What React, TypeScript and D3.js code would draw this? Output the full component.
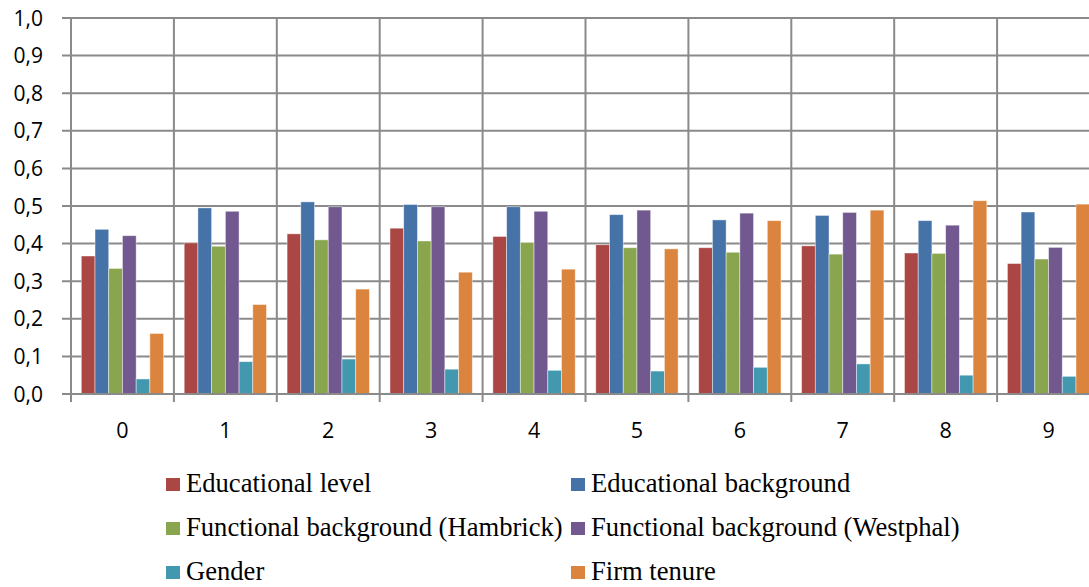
import React from "react";
import * as d3 from "d3";

// Categories along the x axis and the six series drawn in each group
const categories = ["0", "1", "2", "3", "4", "5", "6", "7", "8", "9"];

const seriesNames = [
  "Educational level",
  "Educational background",
  "Functional background (Hambrick)",
  "Functional background (Westphal)",
  "Gender",
  "Firm tenure",
];

const seriesColors = ["#AA4643", "#4572A7", "#89A54E", "#71588F", "#4198AF", "#DB843D"];

const educationalLevel = [0.367, 0.402, 0.426, 0.441, 0.419, 0.397, 0.389, 0.394, 0.375, 0.347];
const educationalBackground = [0.438, 0.495, 0.511, 0.504, 0.498, 0.477, 0.463, 0.475, 0.461, 0.484];
const functionalHambrick = [0.334, 0.393, 0.41, 0.407, 0.403, 0.389, 0.377, 0.372, 0.374, 0.359];
const functionalWestphal = [0.421, 0.486, 0.498, 0.498, 0.486, 0.489, 0.481, 0.483, 0.449, 0.39];
const gender = [0.04, 0.086, 0.093, 0.066, 0.063, 0.061, 0.071, 0.08, 0.05, 0.047];
const firmTenure = [0.161, 0.238, 0.279, 0.324, 0.332, 0.386, 0.461, 0.489, 0.514, 0.505];

const seriesValues = [
  educationalLevel,
  educationalBackground,
  functionalHambrick,
  functionalWestphal,
  gender,
  firmTenure,
];

const yTicks = [0, 0.1, 0.2, 0.3, 0.4, 0.5, 0.6, 0.7, 0.8, 0.9, 1.0];

const W = 1089;
const H = 587;
const plotLeft = 71;
const plotRight = 1100;
const plotTop = 18;
const plotBottom = 394;

const gridColor = "#8a8a8a";
const axisFont = "'Open Sans', 'DejaVu Sans', sans-serif";
const legendFont = "'Liberation Serif', 'Times New Roman', serif";

export default function App() {
  const x = d3.scaleBand<string>().domain(categories).range([plotLeft, plotRight]).padding(0);
  const xInner = d3
    .scaleBand<string>()
    .domain(seriesNames)
    .range([0, x.bandwidth()])
    .paddingInner(0)
    .paddingOuter(0.75);
  const y = d3.scaleLinear().domain([0, 1]).range([plotBottom, plotTop]);
  const fmt = (v: number) => d3.format(".1f")(v).replace(".", ",");

  const boundaries = categories.map((c) => x(c) as number).concat([plotRight]);

  const legendCols = [166, 571];
  const legendRows = [478, 522, 566];

  return (
    <svg
      width={W}
      height={H}
      style={{ position: "absolute", left: 0, top: 0, background: "#fff" }}
    >
      {/* horizontal gridlines with their tick stubs */}
      {yTicks.map((t) => (
        <line
          key={"h" + t}
          x1={plotLeft - 9}
          x2={plotRight}
          y1={y(t)}
          y2={y(t)}
          stroke={gridColor}
          strokeWidth={2}
        />
      ))}
      {/* vertical gridlines at category boundaries, extending below the axis as ticks */}
      {boundaries.map((bx, i) => (
        <line
          key={"v" + i}
          x1={bx}
          x2={bx}
          y1={plotTop}
          y2={plotBottom + 8}
          stroke={gridColor}
          strokeWidth={2}
        />
      ))}

      {/* bars */}
      {categories.map((c, ci) => (
        <g key={"g" + c} transform={`translate(${x(c)},0)`}>
          {seriesNames.map((s, si) => {
            const v = seriesValues[si][ci];
            return (
              <rect
                key={s}
                x={xInner(s)}
                y={y(v)}
                width={xInner.bandwidth()}
                height={y(0) - y(v)}
                fill={seriesColors[si]}
                stroke="rgba(255,255,255,0.55)"
                strokeWidth={0.8}
              />
            );
          })}
        </g>
      ))}

      {/* x axis baseline */}
      <line x1={plotLeft} x2={plotRight} y1={plotBottom} y2={plotBottom} stroke={gridColor} strokeWidth={2} />

      {/* y tick labels */}
      {yTicks.map((t) => (
        <text
          key={"yl" + t}
          x={43}
          y={y(t)}
          dy="0.36em"
          textAnchor="end"
          fontFamily={axisFont}
          fontSize={21}
          fill="#000"
        >
          {fmt(t)}
        </text>
      ))}

      {/* x tick labels */}
      {categories.map((c) => (
        <text
          key={"xl" + c}
          x={(x(c) as number) + x.bandwidth() / 2}
          y={437.5}
          textAnchor="middle"
          fontFamily={axisFont}
          fontSize={21.5}
          fill="#000"
        >
          {c}
        </text>
      ))}

      {/* legend, two columns by three rows */}
      {seriesNames.map((s, i) => {
        const lx = legendCols[i % 2];
        const ly = legendRows[Math.floor(i / 2)];
        return (
          <g key={"lg" + s} transform={`translate(${lx},${ly})`}>
            <rect x={0} y={0} width={14} height={13} fill={seriesColors[i]} />
            <text x={20} y={14} fontFamily={legendFont} fontSize={26.6} fill="#000">
              {s}
            </text>
          </g>
        );
      })}
    </svg>
  );
}
